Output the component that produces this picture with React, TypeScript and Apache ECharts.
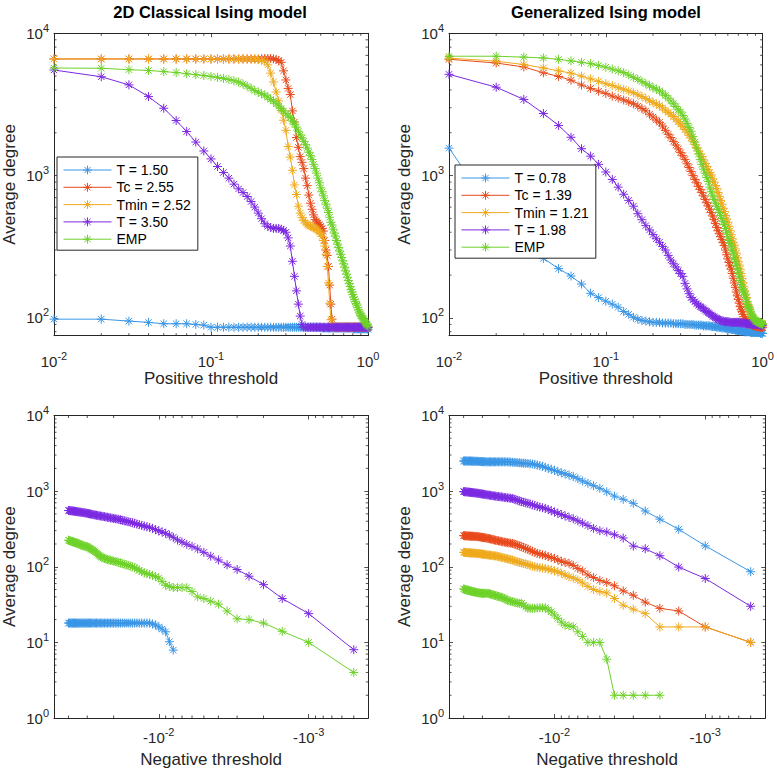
import React, { useEffect, useRef } from 'react';
import * as echarts from 'echarts';

const FONT = '"Liberation Sans", Arial, Helvetica, sans-serif';
const AX = '#262626';
const C_BLUE = '#3A96E6';
const C_RED = '#E84A1C';
const C_ORANGE = '#EFAA1C';
const C_PURPLE = '#7C2AE2';
const C_GREEN = '#6ED22A';
const SERIES_COLORS = [C_BLUE, C_RED, C_ORANGE, C_PURPLE, C_GREEN];

const TITLES = ['2D Classical Ising model', 'Generalized Ising model'];
const NAMES_LEFT = ['T = 1.50', 'Tc = 2.55', 'Tmin = 2.52', 'T = 3.50', 'EMP'];
const NAMES_RIGHT = ['T = 0.78', 'Tc = 1.39', 'Tmin = 1.21', 'T = 1.98', 'EMP'];
const X_NAME_TOP = 'Positive threshold';
const X_NAME_BOTTOM = 'Negative threshold';
const Y_NAME = 'Average degree';

// positive thresholds (top panels)
const POS_THRESHOLDS = [
  0.01, 0.02, 0.03, 0.04, 0.05, 0.06, 0.07, 0.08, 0.09, 0.10,
  0.11, 0.12, 0.13, 0.14, 0.15, 0.16, 0.17, 0.18, 0.19, 0.20,
  0.21, 0.22, 0.23, 0.24, 0.25, 0.26, 0.27, 0.28, 0.29, 0.30,
  0.31, 0.32, 0.33, 0.34, 0.35, 0.36, 0.37, 0.38, 0.39, 0.40,
  0.41, 0.42, 0.43, 0.44, 0.45, 0.46, 0.47, 0.48, 0.49, 0.50,
  0.51, 0.52, 0.53, 0.54, 0.55, 0.56, 0.57, 0.58, 0.59, 0.60,
  0.61, 0.62, 0.63, 0.64, 0.65, 0.66, 0.67, 0.68, 0.69, 0.70,
  0.71, 0.72, 0.73, 0.74, 0.75, 0.76, 0.77, 0.78, 0.79, 0.80,
  0.81, 0.82, 0.83, 0.84, 0.85, 0.86, 0.87, 0.88, 0.89, 0.90,
  0.91, 0.92, 0.93, 0.94, 0.95, 0.96, 0.97, 0.98, 0.99, 1.00,
];

// negative thresholds (bottom panels)
const NEG_THRESHOLDS = [
  -0.0400, -0.0395, -0.0390, -0.0385, -0.0380, -0.0375, -0.0370, -0.0365, -0.0360, -0.0355,
  -0.0350, -0.0345, -0.0340, -0.0335, -0.0330, -0.0325, -0.0320, -0.0315, -0.0310, -0.0305,
  -0.0300, -0.0295, -0.0290, -0.0285, -0.0280, -0.0275, -0.0270, -0.0265, -0.0260, -0.0255,
  -0.0250, -0.0245, -0.0240, -0.0235, -0.0230, -0.0225, -0.0220, -0.0215, -0.0210, -0.0205,
  -0.0200, -0.0195, -0.0190, -0.0185, -0.0180, -0.0175, -0.0170, -0.0165, -0.0160, -0.0155,
  -0.0150, -0.0145, -0.0140, -0.0135, -0.0130, -0.0125, -0.0120, -0.0115, -0.0110, -0.0105,
  -0.0100, -0.0095, -0.0090, -0.0085, -0.0080, -0.0075, -0.0070, -0.0065, -0.0060, -0.0055,
  -0.0050, -0.0045, -0.0040, -0.0035, -0.0030, -0.0025, -0.0020, -0.0015, -0.0010, -0.0005,
];

// ---- Top-left: 2D classical Ising, positive threshold ----
const TL_T150 = [
  98, 98, 95, 93, 91, 91, 91, 90, 89, 86,
  86, 86, 86, 86, 86, 86, 86, 86, 86, 86,
  86, 86, 86, 86, 86, 86, 86, 86, 86, 86,
  86, 86, 86, 86, 86, 86, 86, 86, 86, 86,
  86, 86, 86, 86, 86, 86, 86, 86, 86, 86,
  85, 85, 85, 85, 85, 85, 85, 85, 85, 85,
  85, 85, 85, 85, 85, 85, 85, 85, 85, 85,
  85, 85, 85, 85, 85, 85, 85, 85, 85, 85,
  84, 84, 84, 84, 84, 84, 84, 84, 84, 84,
  84, 84, 84, 84, 84, 84, 84, 84, 84, 83,
];
const TL_TC = [
  6600, 6600, 6600, 6600, 6600, 6600, 6600, 6600, 6600, 6600,
  6600, 6600, 6600, 6600, 6600, 6600, 6600, 6600, 6600, 6600,
  6620, 6650, 6650, 6650, 6620, 6550, 6450, 6250, 5450, 4700,
  4100, 3710, 2850, 2380, 1850, 1580, 1360, 1240, 1120, 960,
  850, 730, 640, 580, 530, 490, 480, 465, 452, 440,
  425, 408, 350, 300, 275, 230, 170, 125, 98, 87,
  86, 86, 86, 86, 86, 86, 86, 86, 86, 86,
  86, 86, 86, 86, 86, 86, 86, 86, 86, 86,
  86, 86, 86, 86, 86, 86, 86, 86, 86, 86,
  86, 86, 86, 86, 86, 86, 86, 86, 86, 86,
];
const TL_TMIN = [
  6600, 6600, 6600, 6600, 6600, 6600, 6600, 6600, 6600, 6600,
  6600, 6600, 6600, 6600, 6600, 6600, 6600, 6600, 6600, 6540,
  6450, 6380, 6000, 5250, 4550, 3870, 3350, 2870, 2450, 2080,
  1600, 1350, 1090, 860, 737, 610, 545, 506, 485, 465,
  454, 448, 442, 436, 431, 426, 420, 412, 400, 390,
  374, 350, 320, 280, 230, 176, 127, 97, 87, 86,
  86, 86, 86, 86, 86, 86, 86, 86, 86, 86,
  86, 86, 86, 86, 86, 86, 86, 86, 86, 86,
  86, 86, 86, 86, 86, 86, 86, 86, 86, 86,
  86, 86, 86, 86, 86, 86, 86, 86, 86, 86,
];
const TL_T350 = [
  5520, 4950, 4340, 3590, 2975, 2440, 2040, 1720, 1490, 1310,
  1158, 1052, 960, 871, 807, 760, 713, 657, 601, 545,
  498, 459, 440, 431, 426, 426, 425, 420, 412, 400,
  365, 320, 250, 196, 155, 125, 103, 90, 86, 86,
  86, 86, 86, 86, 86, 86, 86, 86, 86, 86,
  86, 86, 86, 86, 86, 86, 86, 86, 86, 86,
  86, 86, 86, 86, 86, 86, 86, 86, 86, 86,
  86, 86, 86, 86, 86, 86, 86, 86, 86, 86,
  86, 86, 86, 86, 86, 86, 86, 86, 86, 86,
  86, 86, 86, 86, 86, 86, 86, 86, 86, 86,
];
const TL_EMP = [
  5700, 5680, 5550, 5480, 5380, 5300, 5200, 5120, 5050, 4980,
  4900, 4820, 4730, 4640, 4540, 4400, 4250, 4100, 3960, 3850,
  3760, 3680, 3560, 3430, 3340, 3200, 3080, 2960, 2850, 2720,
  2630, 2560, 2420, 2300, 2190, 2050, 1930, 1840, 1740, 1650,
  1560, 1460, 1380, 1300, 1200, 1120, 1040, 960, 890, 820,
  770, 720, 670, 630, 590, 550, 510, 470, 450, 420,
  395, 375, 350, 330, 312, 295, 280, 266, 252, 240,
  227, 214, 203, 193, 183, 174, 166, 158, 152, 146,
  140, 135, 130, 126, 123, 118, 114, 110, 107, 104,
  103, 101, 99, 97, 95, 93, 92, 90, 89, 87,
];

// ---- Top-right: generalized Ising, positive threshold ----
const TR_T078 = [
  1560, 520, 350, 262, 222, 197, 173, 149, 139, 131,
  125, 119, 111, 106, 101, 98, 96, 95, 94, 93,
  93, 93, 92, 92, 92, 92, 91, 91, 91, 91,
  91, 90, 90, 90, 90, 90, 89, 89, 89, 89,
  89, 88, 88, 88, 88, 88, 87, 87, 87, 87,
  86, 86, 86, 86, 85, 85, 85, 85, 84, 84,
  84, 84, 83, 83, 83, 83, 82, 82, 82, 82,
  81, 81, 81, 81, 81, 80, 80, 80, 80, 80,
  80, 80, 80, 79, 79, 79, 79, 79, 79, 79,
  79, 79, 79, 79, 79, 79, 78, 78, 78, 78,
];
const TR_TC = [
  6570, 6180, 5800, 5280, 4980, 4680, 4330, 4100, 3920, 3780,
  3620, 3510, 3400, 3300, 3200, 3080, 2960, 2850, 2700, 2580,
  2460, 2370, 2230, 2080, 1950, 1850, 1740, 1640, 1540, 1450,
  1380, 1300, 1210, 1140, 1070, 1000, 940, 890, 840, 800,
  760, 720, 680, 645, 612, 580, 550, 520, 490, 460,
  432, 410, 390, 372, 355, 338, 322, 300, 278, 260,
  245, 232, 220, 205, 190, 176, 164, 152, 143, 135,
  127, 120, 114, 111, 106, 102, 99, 97, 96, 94,
  93, 92, 91, 90, 90, 89, 89, 88, 88, 88,
  87, 87, 87, 87, 86, 86, 86, 86, 86, 86,
];
const TR_TMIN = [
  6700, 6370, 6030, 5710, 5450, 5250, 5000, 4780, 4600, 4420,
  4300, 4150, 4040, 3930, 3820, 3700, 3600, 3480, 3360, 3270,
  3180, 3110, 2990, 2880, 2780, 2700, 2600, 2490, 2390, 2300,
  2210, 2110, 2020, 1920, 1840, 1740, 1650, 1570, 1490, 1420,
  1360, 1290, 1220, 1160, 1100, 1050, 1010, 950, 900, 850,
  810, 760, 715, 670, 630, 590, 560, 525, 495, 470,
  440, 410, 385, 360, 340, 325, 305, 285, 265, 250,
  235, 220, 205, 190, 178, 167, 155, 147, 139, 130,
  122, 116, 110, 106, 103, 100, 98, 96, 95, 94,
  93, 93, 93, 92, 92, 92, 91, 91, 91, 91,
];
const TR_T198 = [
  5150, 4180, 3430, 2730, 2250, 1860, 1545, 1370, 1200, 1060,
  940, 830, 740, 670, 610, 540, 490, 445, 415, 385,
  360, 340, 318, 300, 275, 255, 240, 228, 215, 205,
  196, 175, 160, 148, 139, 134, 130, 126, 123, 120,
  118, 116, 113, 111, 109, 107, 105, 103, 102, 100,
  99, 98, 97, 96, 95, 95, 94, 94, 94, 94,
  94, 93, 93, 93, 93, 93, 93, 93, 93, 93,
  93, 92, 92, 92, 92, 92, 92, 92, 91, 91,
  91, 91, 91, 91, 91, 90, 90, 90, 90, 90,
  90, 90, 90, 90, 90, 90, 89, 89, 89, 89,
];
const TR_EMP = [
  6900, 6900, 6800, 6710, 6560, 6400, 6250, 6120, 5950, 5780,
  5600, 5450, 5300, 5100, 4900, 4750, 4580, 4420, 4280, 4150,
  4050, 3950, 3800, 3650, 3500, 3350, 3200, 3060, 2900, 2800,
  2650, 2500, 2330, 2180, 2050, 1880, 1720, 1560, 1420, 1300,
  1200, 1110, 1040, 970, 910, 830, 770, 720, 680, 640,
  610, 580, 550, 525, 500, 475, 452, 425, 400, 370,
  350, 335, 320, 300, 285, 265, 250, 235, 222, 208,
  195, 183, 172, 162, 157, 152, 145, 138, 130, 124,
  120, 118, 114, 110, 106, 103, 101, 99, 97, 96,
  95, 94, 94, 93, 93, 92, 92, 91, 91, 90,
];

// ---- Bottom-left: 2D classical Ising, negative threshold ----
const BL_T150 = [
  18, 18, 18, 18, 18, 18, 18, 18, 18, 18,
  18, 18, 18, 18, 18, 18, 18, 18, 18, 18,
  18, 18, 18, 18, 18, 18, 18, 18, 18, 18,
  18, 18, 18, 18, 18, 18, 18, 18, 18, 18,
  18, 18, 18, 18, 18, 18, 18, 18, 18, 18,
  18, 18, 18, 18, 18, 18, 18, 18, 17.5, 17,
  16, 15, 13.8, 10.2, 7.9, null, null, null, null, null,
  null, null, null, null, null, null, null, null, null, null,
];
const BL_T350 = [
  555, 553, 552, 550, 548, 546, 545, 542, 540, 537,
  535, 532, 530, 528, 525, 522, 520, 518, 516, 512,
  508, 505, 501, 498, 494, 490, 486, 483, 480, 476,
  472, 469, 466, 463, 459, 455, 451, 447, 443, 439,
  435, 431, 428, 424, 418, 411, 405, 399, 394, 388,
  382, 375, 367, 360, 352, 345, 338, 330, 322, 310,
  298, 288, 277, 262, 245, 226, 212, 198, 186, 172,
  155, 138, 123, 106, 92, 75, 58, 38, 24, 8,
];
const BL_EMP = [
  225, 222, 220, 218, 216, 214, 212, 210, 208, 206,
  205, 204, 200, 197, 194, 192, 190, 188, 186, 185,
  184, 180, 176, 172, 169, 166, 162, 158, 152, 146,
  141, 137, 134, 131, 129, 127, 125, 123, 122, 120,
  119, 117, 116, 114, 112, 110, 108, 106, 104, 102,
  100, 97, 94, 90, 86, 83, 81, 79, 77, 74,
  71, 64, 57, 55, 53, 53, 53, 53, 47, 40,
  38, 35, 32, 26, 20.5, 20, 18, 14, 10, 4,
];

// ---- Bottom-right: generalized Ising, negative threshold ----
const BR_T078 = [
  2500, 2500, 2500, 2510, 2500, 2490, 2500, 2500, 2500, 2490,
  2490, 2490, 2480, 2480, 2480, 2480, 2470, 2470, 2460, 2460,
  2450, 2450, 2450, 2440, 2440, 2440, 2440, 2440, 2440, 2440,
  2440, 2440, 2440, 2440, 2440, 2440, 2440, 2440, 2440, 2435,
  2430, 2420, 2410, 2400, 2390, 2380, 2370, 2350, 2340, 2330,
  2320, 2300, 2290, 2250, 2210, 2170, 2130, 2060, 2000, 1940,
  1880, 1810, 1750, 1690, 1630, 1560, 1460, 1360, 1270, 1180,
  1090, 980, 860, 780, 690, 546, 426, 313, 189, 86,
];
const BR_TC = [
  258, 257, 257, 256, 256, 255, 255, 254, 254, 253,
  253, 253, 252, 252, 251, 251, 250, 249, 247, 245,
  244, 243, 242, 240, 239, 237, 235, 233, 231, 228,
  226, 224, 222, 220, 218, 216, 214, 212, 210, 208,
  207, 205, 204, 200, 196, 192, 188, 184, 180, 175,
  170, 165, 160, 155, 150, 147, 144, 141, 136, 133,
  129, 123, 118, 114, 111, 104, 95, 88, 78, 72,
  66, 62, 56, 48, 42, 34, 28.2, 26, 16, 10,
];
const BR_TMIN = [
  155, 155, 154, 154, 154, 153, 153, 153, 152, 152,
  152, 151, 151, 151, 150, 150, 150, 149, 148, 148,
  147, 146, 145, 145, 144, 143, 142, 142, 141, 140,
  139.5, 139, 138, 136, 135, 133, 132, 130, 129, 127,
  126, 124, 123, 120, 118, 116, 114, 112, 110, 109,
  107, 104, 102, 100, 99, 97, 96, 95, 93, 91,
  88, 86, 82, 78, 74, 71, 67, 61, 55, 50,
  47, 45, 38, 31, 27.5, 24, 16, 16, 16, 10,
];
const BR_T198 = [
  985, 982, 980, 977, 975, 972, 969, 966, 963, 960,
  957, 953, 950, 946, 942, 939, 935, 930, 925, 920,
  915, 910, 905, 899, 894, 889, 884, 879, 873, 868,
  862, 858, 853, 848, 843, 838, 832, 826, 820, 815,
  810, 805, 800, 785, 770, 755, 740, 725, 712, 700,
  690, 675, 660, 645, 630, 615, 603, 592, 572, 550,
  530, 510, 490, 470, 450, 430, 405, 378, 350, 322,
  300, 288, 265, 240, 188, 173, 140, 99, 70, 30,
];
const BR_EMP = [
  51, 50.5, 50, 49.5, 49, 48.8, 48.5, 48, 47.8, 47.5,
  47, 46.8, 46.5, 46, 45.8, 45.5, 45.3, 45, 44.8, 44.6,
  44.5, 44.5, 44.5, 44.5, 44.5, 44.5, 44, 43.5, 43, 42.5,
  42, 41.5, 41, 40.5, 40, 39.5, 39, 38.2, 37, 36,
  35.5, 35, 34.5, 34, 33.5, 33, 32.8, 32.8, 31, 29.5,
  28.2, 28.2, 28.2, 28.2, 28.4, 28.6, 28.7, 28.7, 27, 25.4,
  23, 20.8, 18.5, 16.9, 16.5, 16.1, 13.8, 12, 10, 10,
  10, 6, 2, 2, 2, 2, 2, null, null, null,
];

// minor tick positions
const MINOR_POS_X = [0.02, 0.03, 0.04, 0.05, 0.06, 0.07, 0.08, 0.09, 0.2, 0.3, 0.4, 0.5, 0.6, 0.7, 0.8, 0.9];
const MINOR_POS_Y = [80, 90, 200, 300, 400, 500, 600, 700, 800, 900, 2000, 3000, 4000, 5000, 6000, 7000, 8000, 9000];
const MINOR_NEG_X = [0.0005, 0.0006, 0.0007, 0.0008, 0.0009, 0.002, 0.003, 0.004, 0.005, 0.006, 0.007, 0.008, 0.009, 0.02, 0.03, 0.04];
const MINOR_NEG_Y = [2, 3, 4, 5, 6, 7, 8, 9, 20, 30, 40, 50, 60, 70, 80, 90, 200, 300, 400, 500, 600, 700, 800, 900, 2000, 3000, 4000, 5000, 6000, 7000, 8000, 9000];

const ASTER = 'path://M0,-5L0,5M-5,0L5,0M-3.54,-3.54L3.54,3.54M-3.54,3.54L3.54,-3.54';

const GRIDS = [
  { left: 52, top: 33.3, width: 316, height: 302.4 },
  { left: 449, top: 33.3, width: 316.3, height: 302.4 },
  { left: 52, top: 415.5, width: 316.3, height: 302.5 },
  { left: 449, top: 415.5, width: 316.3, height: 302.5 },
];

function powLabel(neg: boolean) {
  return (v: number) => {
    const e = Math.log10(v);
    const r = Math.round(e);
    if (Math.abs(e - r) > 1e-6) return '';
    return `{b|${neg ? '-' : ''}10}{s|${r}}`;
  };
}

const RICH = {
  b: { fontSize: 15, lineHeight: 22, color: AX, fontFamily: FONT },
  s: { fontSize: 11, lineHeight: 11, verticalAlign: 'top', color: AX, fontFamily: FONT },
};

function buildOption() {
  const xAxis: any[] = [];
  const yAxis: any[] = [];
  const series: any[] = [];
  const panels = [
    { top: true, names: NAMES_LEFT, data: [TL_T150, TL_TC, TL_TMIN, TL_T350, TL_EMP] },
    { top: true, names: NAMES_RIGHT, data: [TR_T078, TR_TC, TR_TMIN, TR_T198, TR_EMP] },
    { top: false, names: NAMES_LEFT, data: [BL_T150, null, null, BL_T350, BL_EMP] },
    { top: false, names: NAMES_RIGHT, data: [BR_T078, BR_TC, BR_TMIN, BR_T198, BR_EMP] },
  ];
  const axisLine = { show: true, onZero: false, lineStyle: { color: AX, width: 1 } };
  const axisTick = { show: true, inside: true, length: 4, lineStyle: { color: AX, width: 0.8 } };
  const nameStyle = { fontSize: 17, color: AX, fontFamily: FONT };

  panels.forEach((p, gi) => {
    const xr = p.top ? { min: 0.01, max: 1, inverse: false } : { min: 0.0004, max: 0.05, inverse: true };
    const yr = p.top ? { min: 75, max: 10000 } : { min: 1, max: 10000 };
    xAxis[gi] = {
      type: 'log', logBase: 10, gridIndex: gi, position: 'bottom', ...xr,
      axisLine, axisTick, splitLine: { show: false }, minorTick: { show: false },
      axisLabel: { formatter: powLabel(!p.top), rich: RICH, margin: p.top ? 15 : 8, hideOverlap: false },
      name: p.top ? X_NAME_TOP : X_NAME_BOTTOM, nameLocation: 'middle', nameGap: 33,
      nameTextStyle: nameStyle,
    };
    xAxis[gi + 4] = {
      type: 'log', logBase: 10, gridIndex: gi, position: 'top', ...xr,
      axisLine, axisTick, splitLine: { show: false }, axisLabel: { show: false },
    };
    yAxis[gi] = {
      type: 'log', logBase: 10, gridIndex: gi, position: 'left', ...yr,
      axisLine, axisTick, splitLine: { show: false },
      axisLabel: { formatter: powLabel(false), rich: RICH, margin: 5, hideOverlap: false },
      name: Y_NAME, nameLocation: 'middle', nameGap: 36, nameRotate: 90, nameTextStyle: nameStyle,
    };
    yAxis[gi + 4] = {
      type: 'log', logBase: 10, gridIndex: gi, position: 'right', ...yr,
      axisLine, axisTick, splitLine: { show: false }, axisLabel: { show: false },
    };

    const xs = p.top ? POS_THRESHOLDS : NEG_THRESHOLDS.map((v) => -v);
    p.data.forEach((ys, si) => {
      if (!ys) return;
      const color = SERIES_COLORS[si];
      const pts: number[][] = [];
      for (let i = 0; i < xs.length; i++) if (ys[i] != null) pts.push([xs[i], ys[i] as number]);
      series.push({
        type: 'line', name: p.names[si], xAxisIndex: gi, yAxisIndex: gi, data: pts,
        symbol: ASTER, symbolSize: 9, showSymbol: true,
        lineStyle: { color, width: 1 },
        itemStyle: { color, borderColor: color, borderWidth: 1 },
        clip: false, silent: true, emphasis: { disabled: true }, z: 3,
      });
    });

    const mx = p.top ? MINOR_POS_X : MINOR_NEG_X;
    const my = p.top ? MINOR_POS_Y : MINOR_NEG_Y;
    const ax = p.top ? 0.1 : 0.01;
    const ay = 100;
    const minorData: number[][] = [];
    mx.forEach((v) => minorData.push([v, ay, 0]));
    my.forEach((v) => minorData.push([ax, v, 1]));
    series.push({
      type: 'custom', xAxisIndex: gi, yAxisIndex: gi, data: minorData, silent: true, clip: false, z: 2,
      encode: { x: 0, y: 1 },
      renderItem: (params: any, api: any) => {
        const cs = params.coordSys;
        const kind = api.value(2);
        const pt = api.coord([api.value(0), api.value(1)]);
        const L = 2.5;
        const style = { stroke: AX, lineWidth: 0.8 };
        if (kind === 0) {
          const x = pt[0];
          return {
            type: 'group', children: [
              { type: 'line', shape: { x1: x, y1: cs.y + cs.height, x2: x, y2: cs.y + cs.height - L }, style },
              { type: 'line', shape: { x1: x, y1: cs.y, x2: x, y2: cs.y + L }, style },
            ],
          };
        }
        const y = pt[1];
        return {
          type: 'group', children: [
            { type: 'line', shape: { x1: cs.x, y1: y, x2: cs.x + L, y2: y }, style },
            { type: 'line', shape: { x1: cs.x + cs.width, y1: y, x2: cs.x + cs.width - L, y2: y }, style },
          ],
        };
      },
    });
  });

  const legendBase = {
    orient: 'vertical', itemWidth: 48, itemHeight: 11, itemGap: 3.3,
    padding: [6, 7, 4, 6], backgroundColor: '#fff', borderColor: AX, borderWidth: 1, borderRadius: 0,
    selectedMode: false, textStyle: { fontSize: 14, color: '#000', fontFamily: FONT },
    lineStyle: { width: 1 }, itemStyle: { borderWidth: 1 },
  };

  return {
    animation: false,
    textStyle: { fontFamily: FONT },
    grid: GRIDS.map((g) => ({ ...g, containLabel: false })),
    xAxis, yAxis, series,
    legend: [
      { ...legendBase, data: NAMES_LEFT, left: 57, top: 157 },
      { ...legendBase, data: NAMES_RIGHT, left: 455, top: 165 },
    ],
    graphic: [
      { type: 'text', x: 210, y: 12, style: { text: TITLES[0], font: `bold 16.5px ${FONT}`, fill: '#000', textAlign: 'center', textVerticalAlign: 'middle' } },
      { type: 'text', x: 606, y: 12, style: { text: TITLES[1], font: `bold 16.5px ${FONT}`, fill: '#000', textAlign: 'center', textVerticalAlign: 'middle' } },
    ],
  };
}

export default function App() {
  const ref = useRef<HTMLDivElement>(null);
  useEffect(() => {
    if (!ref.current) return;
    const chart = echarts.init(ref.current, undefined, { renderer: 'svg' });
    chart.setOption(buildOption() as any);
    return () => chart.dispose();
  }, []);
  return <div ref={ref} style={{ position: 'absolute', left: 0, top: 0, width: 777, height: 770, background: '#fff' }} />;
}
